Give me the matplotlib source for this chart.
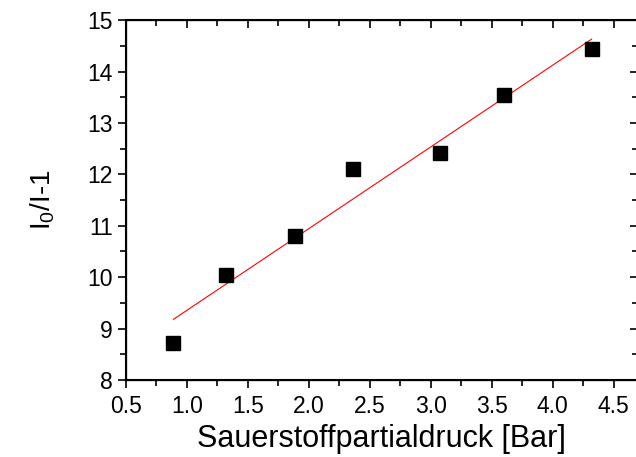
import numpy as np
import matplotlib.pyplot as plt
from matplotlib.ticker import MultipleLocator

plt.rcParams['font.family'] = ['Liberation Sans', 'DejaVu Sans']
plt.rcParams['mathtext.fontset'] = 'custom'
plt.rcParams['mathtext.rm'] = 'Liberation Sans'

# messwerte
druck = [0.89, 1.325, 1.89, 2.36, 3.08, 3.60, 4.32]
quench = [8.71, 10.04, 10.80, 12.10, 12.41, 13.54, 14.44]
# fit-gerade (endpunkte aus dem bild)
fit_x = [0.89, 4.32]
fit_y = [9.18, 14.63]

fig = plt.figure(figsize=(6.36, 4.57), dpi=100)
ax = fig.add_axes([0.198, 0.1685, 0.805, 0.7875])

ax.plot(fit_x, fit_y, 'r-', lw=0.8)
ax.plot(druck, quench, 's', color='black', ms=9.5, ls='none')

ax.set_xlim(0.5, 4.7)
ax.set_ylim(8, 15)
ax.xaxis.set_major_locator(MultipleLocator(0.5))
ax.xaxis.set_minor_locator(MultipleLocator(0.25))
ax.yaxis.set_major_locator(MultipleLocator(1))
ax.yaxis.set_minor_locator(MultipleLocator(0.5))
ax.xaxis.set_major_formatter(plt.FormatStrFormatter('%.1f'))

for s in ax.spines.values():
    s.set_linewidth(1.5)

ax.tick_params(which='both', direction='out', top=False, right=False, width=1.2, labelsize=16.5)
ax.tick_params(which='major', length=6)
ax.tick_params(which='minor', length=4)
ax.tick_params(axis='x', pad=5)

# innen-ticks oben und rechts
ax2 = ax.twinx()
ax2.set_ylim(ax.get_ylim())
ax2.yaxis.set_major_locator(MultipleLocator(1))
ax2.yaxis.set_minor_locator(MultipleLocator(0.5))
ax2.tick_params(which='both', direction='in', labelright=False, width=1.2)
ax2.tick_params(which='major', length=6)
ax2.tick_params(which='minor', length=4)
ax3 = ax.twiny()
ax3.set_xlim(ax.get_xlim())
ax3.xaxis.set_major_locator(MultipleLocator(0.5))
ax3.xaxis.set_minor_locator(MultipleLocator(0.25))
ax3.tick_params(which='both', direction='in', labeltop=False, width=1.2)
ax3.tick_params(which='major', length=6)
ax3.tick_params(which='minor', length=4)

ax.set_xlabel('Sauerstoffpartialdruck [Bar]', fontsize=22, labelpad=4)
ax.set_ylabel(r'I$_\mathregular{0}$/I-1', fontsize=20, labelpad=22)

fig.savefig('out.png', dpi=100)
